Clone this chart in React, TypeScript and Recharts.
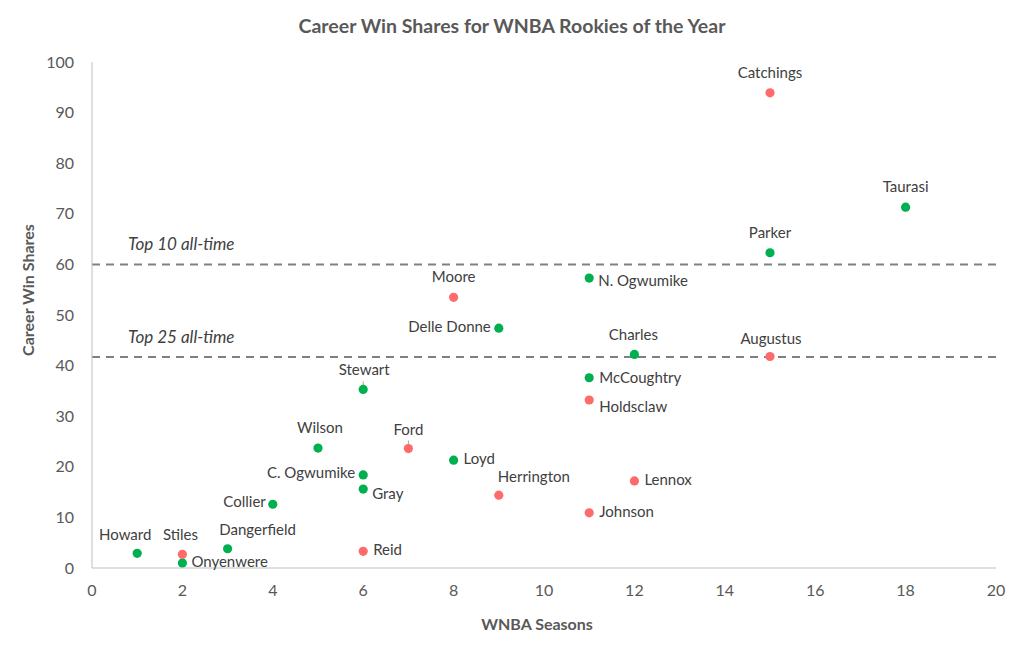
import { ScatterChart, Scatter, XAxis, YAxis, ReferenceLine, Label } from "recharts";

// Rookies of the Year: WNBA seasons played vs. career win shares
const redPlayers = ["Catchings", "Moore", "Augustus", "Holdsclaw", "Ford", "Lennox", "Herrington", "Johnson", "Stiles", "Reid"];
const redSeasons = [15, 8, 15, 11, 7, 12, 9, 11, 2, 6];
const redWinShares = [93.9, 53.5, 41.8, 33.2, 23.6, 17.2, 14.4, 10.9, 2.7, 3.3];

const greenPlayers = [
  "Taurasi", "Parker", "N. Ogwumike", "Delle Donne", "Charles", "McCoughtry", "Stewart", "Wilson",
  "Loyd", "C. Ogwumike", "Gray", "Collier", "Howard", "Dangerfield", "Onyenwere",
];
const greenSeasons = [18, 15, 11, 9, 12, 11, 6, 5, 8, 6, 6, 4, 1, 3, 2];
const greenWinShares = [71.3, 62.3, 57.3, 47.4, 42.2, 37.6, 35.3, 23.7, 21.3, 18.4, 15.6, 12.6, 2.9, 3.8, 1.0];

const xTicks = [0, 2, 4, 6, 8, 10, 12, 14, 16, 18, 20];
const yTicks = [0, 10, 20, 30, 40, 50, 60, 70, 80, 90, 100];

const top10Line = 60;
const top25Line = 41.7;

// label placement next to each dot: [dx, dy, anchor, leader line]
const labelPlacement: Record<string, [number, number, string, boolean?]> = {
  Catchings: [0, -15, "middle"],
  Taurasi: [0, -15, "middle"],
  Parker: [0, -15, "middle"],
  "N. Ogwumike": [9, 8, "start"],
  Moore: [0, -15, "middle"],
  "Delle Donne": [-8, 4, "end"],
  Charles: [-1, -14, "middle"],
  Augustus: [1, -12, "middle"],
  McCoughtry: [10, 5, "start"],
  Stewart: [1, -14, "middle", true],
  Holdsclaw: [10, 12, "start"],
  Wilson: [2, -15, "middle"],
  Ford: [0, -14, "middle", true],
  Loyd: [10, 4, "start"],
  "C. Ogwumike": [-8, 3, "end"],
  Gray: [9, 10, "start"],
  Lennox: [10, 4, "start"],
  Herrington: [-1, -13, "start"],
  Collier: [-7, 3, "end"],
  Johnson: [10, 4, "start"],
  Howard: [-12, -13, "middle"],
  Stiles: [-2, -14, "middle"],
  Dangerfield: [30, -14, "middle"],
  Reid: [10, 4, "start"],
  Onyenwere: [9, 4, "start"],
};

const redData = redPlayers.map((name, i) => ({ name, x: redSeasons[i], y: redWinShares[i] }));
const greenData = greenPlayers.map((name, i) => ({ name, x: greenSeasons[i], y: greenWinShares[i] }));

const FONT = "Lato, 'Open Sans', sans-serif";

const labeledDot = (color: string) => (props: any) => {
  const { cx, cy, payload } = props;
  const [dx, dy, anchor, leader] = labelPlacement[payload.name] || [0, -14, "middle"];
  return (
    <g>
      {leader && <line x1={cx} y1={cy - 2} x2={cx} y2={cy - 8} stroke="#A6A6A6" strokeWidth={1} />}
      <circle cx={cx} cy={cy} r={4.6} fill={color} />
      <text x={cx + dx} y={cy + dy} textAnchor={anchor} fontSize={15} fill="#404040" fontFamily={FONT}>
        {payload.name}
      </text>
    </g>
  );
};

const refLabel = (text: string) => (props: any) => {
  const { viewBox } = props;
  return (
    <text x={viewBox.x + 36} y={viewBox.y - 14} fontSize={17} fontStyle="italic" fill="#404040" fontFamily={FONT}>
      {text}
    </text>
  );
};

const App = () => {
  return (
    <div style={{ position: "absolute", left: 0, top: 0, width: 1024, height: 647, background: "#fff", fontFamily: FONT }}>
      <div
        style={{
          position: "absolute",
          top: 16,
          left: 0,
          width: 1024,
          textAlign: "center",
          fontSize: 19.5,
          lineHeight: "20px",
          fontWeight: 700,
          color: "#595959",
        }}
      >
        Career Win Shares for WNBA Rookies of the Year
      </div>
      <ScatterChart width={1024} height={647} margin={{ top: 62, right: 28, bottom: 39, left: 0 }}>
        <XAxis
          type="number"
          dataKey="x"
          domain={[0, 20]}
          ticks={xTicks}
          interval={0}
          height={40}
          tickLine={false}
          tickMargin={11}
          axisLine={{ stroke: "#BFBFBF", strokeWidth: 1 }}
          tick={{ fontSize: 16, fill: "#595959", fontFamily: FONT }}
        >
          <Label
            content={() => (
              <text x={537} y={630} textAnchor="middle" fontSize={16} fontWeight={700} fill="#595959" fontFamily={FONT}>
                WNBA Seasons
              </text>
            )}
          />
        </XAxis>
        <YAxis
          type="number"
          dataKey="y"
          domain={[0, 100]}
          ticks={yTicks}
          interval={0}
          width={92}
          tickLine={false}
          tickMargin={12}
          axisLine={{ stroke: "#BFBFBF", strokeWidth: 1 }}
          tick={{ fontSize: 16, fill: "#595959", fontFamily: FONT }}
        >
          <Label
            content={() => (
              <text
                x={34}
                y={290}
                transform="rotate(-90 34 290)"
                textAnchor="middle"
                fontSize={16}
                fontWeight={700}
                fill="#595959"
                fontFamily={FONT}
              >
                Career Win Shares
              </text>
            )}
          />
        </YAxis>
        <ReferenceLine y={top10Line} stroke="#808080" strokeWidth={2} strokeDasharray="8 6" label={refLabel("Top 10 all-time")} />
        <ReferenceLine y={top25Line} stroke="#808080" strokeWidth={2} strokeDasharray="8 6" label={refLabel("Top 25 all-time")} />
        <Scatter data={greenData} fill="#00B050" shape={labeledDot("#00B050")} isAnimationActive={false} />
        <Scatter data={redData} fill="#FF6B6B" shape={labeledDot("#FF6B6B")} isAnimationActive={false} />
      </ScatterChart>
    </div>
  );
};

export default App;
